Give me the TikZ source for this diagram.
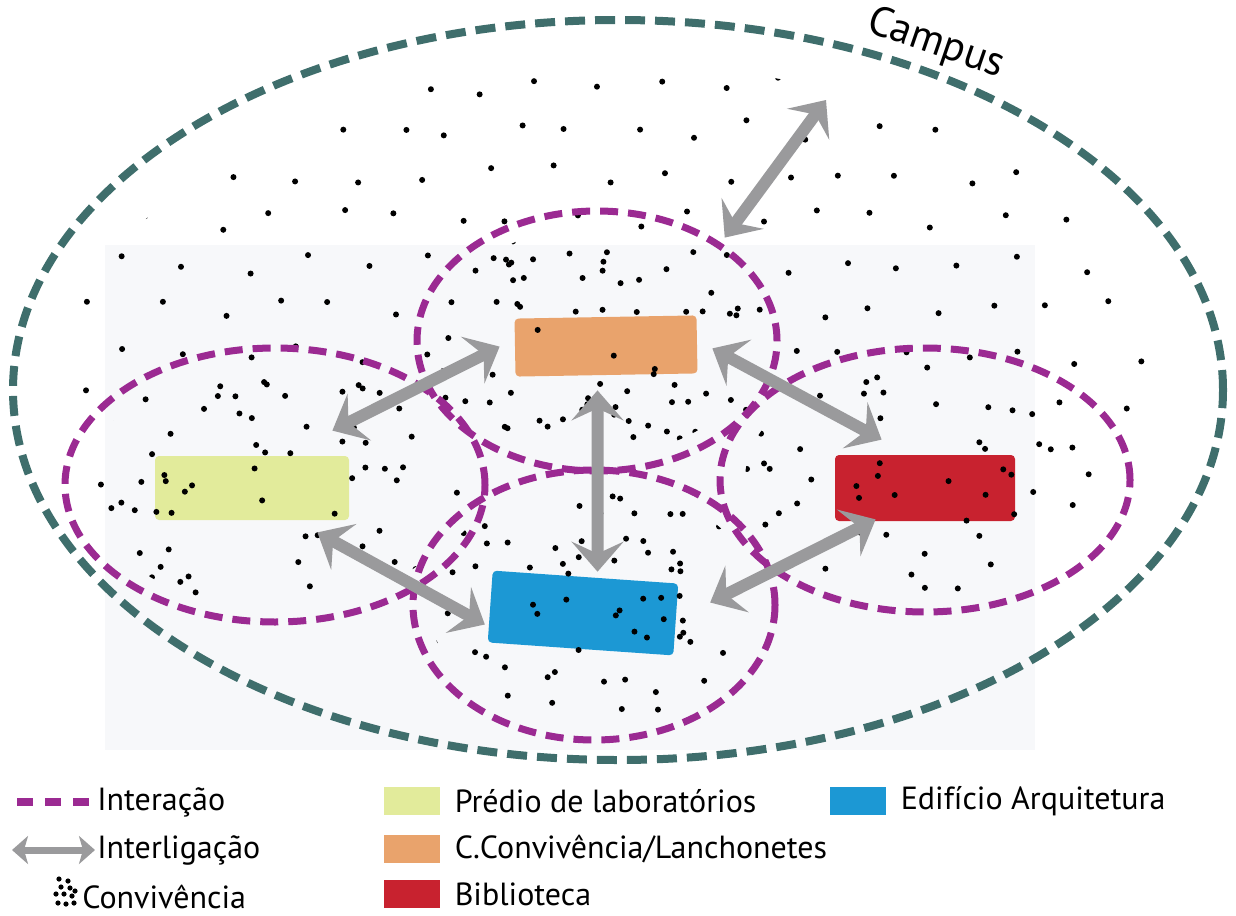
\documentclass[tikz,border=0pt]{standalone}
\usepackage{fontspec}
\setmainfont{PT Sans}
\usetikzlibrary{positioning,shapes.geometric,arrows.meta}
\definecolor{campusteal}{HTML}{3F6E6C}
\definecolor{zonemag}{HTML}{9B2A92}
\definecolor{linkgray}{HTML}{9A9A9C}
\definecolor{labyellow}{HTML}{E2EB9B}
\definecolor{convorange}{HTML}{E9A36C}
\definecolor{bibred}{HTML}{C8222F}
\definecolor{arqblue}{HTML}{1C98D4}
\definecolor{paper}{HTML}{F7F8FA}
\tikzset{
  campusline/.style={ellipse, draw=campusteal, line width=4pt, dash pattern=on 10pt off 5pt, inner sep=0pt},
  zoneline/.style={ellipse, draw=zonemag, line width=3.5pt, dash pattern=on 9pt off 5pt, inner sep=0pt},
  building/.style={rectangle, inner sep=0pt, rounded corners=2pt},
  link/.style={draw=linkgray, line width=6pt, {Stealth[length=15pt,width=26pt,inset=6pt]}-{Stealth[length=15pt,width=26pt,inset=6pt]}},
  dot/.style={fill=black},
  legtext/.style={inner sep=0pt, anchor=west, font=\fontsize{16}{18}\selectfont},
  swatch/.style={rectangle, inner sep=0pt, minimum width=28pt, minimum height=14pt},
}
\begin{document}
\begin{tikzpicture}[x=0.5pt,y=-0.5pt]
\useasboundingbox (0,0) rectangle (1236,915);
\fill[paper] (105,245) rectangle (1035,750);
\pgfmathsetseed{31}

% campus and zones
\node[campusline, minimum width=605pt, minimum height=370pt] (campus) at (618,390) {};
\node[rotate=-19, font=\fontsize{21}{23}\selectfont] (campuslabel) at (936,44) {Campus};

\begin{scope}
  \clip (campus.center) ellipse [x radius=555, y radius=325];
  \foreach \row in {0,...,8} {
    \foreach \col in {0,...,18} {
      \fill[dot] ({95+60*\col+30*mod(\row,2)+12*rand},{40+45*\row+10*rand}) circle [radius=1.5pt];
    }
  }
\end{scope}

\node[zoneline, minimum width=180pt, minimum height=130pt] (zoneconv) at (597,341) {};
\node[zoneline, minimum width=210pt, minimum height=137pt] (zonelab) at (275,485) {};
\node[zoneline, minimum width=205pt, minimum height=132pt] (zonebib) at (925,480) {};
\node[zoneline, minimum width=181pt, minimum height=135pt] (zonearq) at (594,605) {};

% buildings
\node[building, fill=convorange, minimum width=91pt, minimum height=29pt, rotate=1] (conv) at (606,346) {};
\node[building, fill=labyellow, minimum width=97pt, minimum height=32pt] (lab) at (252,488) {};
\node[building, fill=bibred, minimum width=90pt, minimum height=33pt] (bib) at (925,488) {};
\node[building, fill=arqblue, minimum width=93pt, minimum height=36pt, rotate=-4] (arq) at (583,613) {};

% convivencia
\foreach \z/\rx/\ry/\n in {zoneconv/160/115/65, zonelab/190/122/65, zonebib/180/118/55, zonearq/165/120/75} {
  \begin{scope}
    \clip (\z.center) ellipse [x radius=\rx, y radius=\ry];
    \foreach \k in {1,...,\n}
      \fill[dot] ([shift={({\rx*rand},{\ry*rand})}]\z.center) circle [radius=1.5pt];
  \end{scope}
}

% interligacao
\coordinate (campusend) at (826,100);
\draw[link] ([shift={(-2,-9)}]zoneconv.north east) -- (campusend);
\draw[link] ([shift={(-15,-1)}]conv.west) -- ([shift={(-17,-25)}]lab.north east);
\draw[link] ([shift={(-9,15)}]conv.south) -- ([shift={(12,-5)}]arq.north);
\draw[link] ([shift={(15,4)}]conv.east) -- ([shift={(47,-15)}]bib.north west);
\draw[link] ([shift={(-32,12)}]lab.south east) -- ([shift={(-5,18)}]arq.west);
\draw[link] ([shift={(34,-17)}]arq.east) -- ([shift={(41,-2)}]bib.south west);

% legenda
\coordinate (dashstart) at (17,802);
\node[legtext] (leginter) at (97,802) {Interação};
\draw[zonemag, line width=4pt, dash pattern=on 8pt off 6pt] (dashstart) -- ([xshift=-4pt]leginter.west);

\coordinate (arrowstart) at (12,850);
\node[legtext] (leglink) at (97,850) {Interligação};
\draw[draw=linkgray, line width=3.5pt, {Stealth[length=8pt,width=14pt,inset=2pt]}-{Stealth[length=8pt,width=14pt,inset=2pt]}] (arrowstart) -- ([xshift=-1pt]leglink.west);

\coordinate (dotcluster) at (66,893);
\foreach \dx/\dy in {-7/-14, 2/-12, -5/-6, 4/-5, 9/-2, -10/1, -2/1, 6/3, -8/10, 0/11, 8/10}
  \fill[dot] ([shift={(\dx,\dy)}]dotcluster) circle [radius=1.3pt];
\node[legtext] (legconv) at (82,897) {Convivência};

\node[swatch, fill=labyellow] (swlab) at (412,801) {};
\node[legtext, right=7pt of swlab] (txtlab) {Prédio de laboratórios};
\node[swatch, fill=convorange] (swconv) at (412,849) {};
\node[legtext, right=7pt of swconv] (txtconv) {C.Convivência/Lanchonetes};
\node[swatch, fill=bibred] (swbib) at (412,894) {};
\node[legtext, right=7pt of swbib] (txtbib) {Biblioteca};
\node[swatch, fill=arqblue] (swarq) at (858,801) {};
\node[legtext, right=7pt of swarq] (txtarq) {Edifício Arquitetura};
\end{tikzpicture}
\end{document}
